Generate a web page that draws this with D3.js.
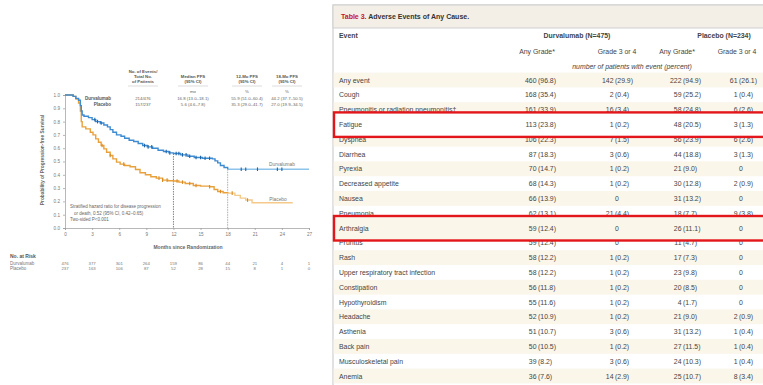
<!DOCTYPE html>
<html><head><meta charset="utf-8">
<script src="https://cdn.jsdelivr.net/npm/d3@7"></script>
<style>
html,body{margin:0;padding:0;background:#fff;}
svg{display:block;font-family:"Liberation Sans",Arial,sans-serif;}
</style></head>
<body>
<svg id="c" width="763" height="385"></svg>
<script>
// ---------- Kaplan-Meier data ----------
const kmMonths = [0,3,6,9,12,15,18,21,24,27];
const kmYTicks = [0,0.1,0.2,0.3,0.4,0.5,0.6,0.7,0.8,0.9,1.0];
const durvaSteps = [[0,1],[0.9,0.99],[1.2,0.975],[1.5,0.96],[1.7,0.92],[1.8,0.88],[1.9,0.85],[2.1,0.84],[2.6,0.83],[3.0,0.815],[3.4,0.80],[3.9,0.79],[4.3,0.775],[4.7,0.76],[5.0,0.74],[5.3,0.72],[5.7,0.70],[6.2,0.69],[6.6,0.675],[7.1,0.66],[7.6,0.65],[8.1,0.635],[8.6,0.62],[9.1,0.61],[9.7,0.60],[10.3,0.585],[10.9,0.575],[11.5,0.565],[12.0,0.56],[12.8,0.55],[13.6,0.54],[14.3,0.53],[15.2,0.525],[16.3,0.52],[16.6,0.505],[16.9,0.49],[17.2,0.47],[17.6,0.455],[18.0,0.442],[27.0,0.442]];
const placeboSteps = [[0,1],[0.9,0.99],[1.2,0.97],[1.5,0.94],[1.7,0.88],[1.8,0.80],[1.9,0.76],[2.3,0.745],[2.8,0.72],[3.1,0.70],[3.4,0.67],[3.7,0.645],[4.0,0.62],[4.3,0.595],[4.6,0.57],[5.0,0.545],[5.3,0.52],[5.7,0.495],[6.1,0.48],[6.6,0.47],[7.2,0.46],[7.8,0.44],[8.3,0.415],[8.9,0.40],[9.5,0.385],[10.1,0.375],[10.8,0.36],[11.4,0.355],[12.0,0.353],[12.6,0.345],[13.3,0.335],[14.2,0.32],[15.0,0.315],[16.0,0.31],[16.5,0.29],[16.9,0.275],[17.5,0.265],[18.0,0.262],[18.8,0.245],[19.4,0.225],[20.0,0.21],[20.7,0.19],[25.2,0.19]];
const durvaCensor = [3.3,3.6,4.0,8.8,9.2,9.6,11.2,11.6,12.3,12.6,13.0,13.4,13.8,14.5,15.0,15.5,16.0,19.5,20.0,21.3,23.5,24.0];
const placeboCensor = [4.1,5.0,6.5,10.4,10.8,11.3,12.4,13.0,13.8,14.5,16.0,17.2,18.5,20.2];
const riskDurva = [476,377,301,264,159,86,44,21,4,1];
const riskPlacebo = [237,163,106,87,52,28,15,8,1,0];
const kmHeaderCols = [["No. of Events/","Total No.","of Patients"],["Median PFS","(95% CI)"],["12-Mo PFS","(95% CI)"],["18-Mo PFS","(95% CI)"]];
const kmHeaderUnits = ["","mo","%","%"];
const kmRowDurva = ["214/476","16.8 (13.0–18.1)","55.9 (51.0–60.4)","44.2 (37.7–50.5)"];
const kmRowPlacebo = ["157/237","5.6 (4.6–7.8)","35.3 (29.0–41.7)","27.0 (19.9–34.5)"];
const hrLines = ["Stratified hazard ratio for disease progression","or death, 0.52 (95% CI, 0.42–0.65)","Two-sided P<0.001"];

// ---------- Table data ----------
const events = ["Any event","Cough","Pneumonitis or radiation pneumonitis†","Fatigue","Dyspnea","Diarrhea","Pyrexia","Decreased appetite","Nausea","Pneumonia","Arthralgia","Pruritus","Rash","Upper respiratory tract infection","Constipation","Hypothyroidism","Headache","Asthenia","Back pain","Musculoskeletal pain","Anemia"];
const durvaAnyN = [460,168,161,113,106,87,70,68,66,62,59,59,58,58,56,55,52,51,50,39,36];
const durvaAnyP = [96.8,35.4,33.9,23.8,22.3,18.3,14.7,14.3,13.9,13.1,12.4,12.4,12.2,12.2,11.8,11.6,10.9,10.7,10.5,8.2,7.6];
const durvaG34N = [142,2,16,1,7,3,1,1,0,21,0,0,1,1,1,1,1,3,1,3,14];
const durvaG34P = [29.9,0.4,3.4,0.2,1.5,0.6,0.2,0.2,0,4.4,0,0,0.2,0.2,0.2,0.2,0.2,0.6,0.2,0.6,2.9];
const placAnyN = [222,59,58,48,56,44,21,30,31,18,26,11,17,23,20,4,21,31,27,24,25];
const placAnyP = [94.9,25.2,24.8,20.5,23.9,18.8,9.0,12.8,13.2,7.7,11.1,4.7,7.3,9.8,8.5,1.7,9.0,13.2,11.5,10.3,10.7];
const placG34N = [61,1,6,3,6,3,0,2,0,9,0,0,0,0,0,0,2,1,1,1,8];
const placG34P = [26.1,0.4,2.6,1.3,2.6,1.3,0,0.9,0,3.8,0,0,0,0,0,0,0.9,0.4,0.4,0.4,3.4];
const highlighted = ["Fatigue","Arthralgia"];

const svg = d3.select("#c");
const ink = "#444";

// ================= KM PLOT =================
const x = d3.scaleLinear().domain([0,27]).range([65,309]);
const y = d3.scaleLinear().domain([0,1]).range([228,95]);
const km = svg.append("g");

const xAxis = km.append("g").attr("transform","translate(0,228)")
  .call(d3.axisBottom(x).tickValues(kmMonths).tickSize(2).tickPadding(3).tickFormat(d3.format("d")));
const yAxis = km.append("g").attr("transform","translate(65,0)")
  .call(d3.axisLeft(y).tickValues(kmYTicks).tickSize(2).tickPadding(3).tickFormat(d3.format(".1f")));
[xAxis,yAxis].forEach(a=>{
  a.selectAll("path,line").attr("stroke","#999").attr("stroke-width",0.7);
  a.selectAll("text").attr("fill","#777").style("font-size","4.6px").style("font-family","Liberation Sans, Arial, sans-serif");
});
km.append("text").attr("x",188).attr("y",249).attr("text-anchor","middle")
  .attr("fill","#666").style("font-size","5px").style("font-weight","bold").text("Months since Randomization");
km.append("text").attr("transform","translate(44,160) rotate(-90)").attr("text-anchor","middle")
  .attr("fill","#666").style("font-size","4.8px").style("font-weight","bold").text("Probability of Progression-free Survival");

function stepVal(steps,t){let v=steps[0][1];for(const s of steps){if(s[0]<=t)v=s[1];}return v;}
[[12,"#666"],[18,"#999"]].forEach(([m,c])=>{
  km.append("line").attr("x1",x(m)).attr("x2",x(m)).attr("y1",y(stepVal(durvaSteps,m))).attr("y2",y(0))
    .attr("stroke",c).attr("stroke-width",0.8).attr("stroke-dasharray","1.5,1");
});

const line = d3.line().x(d=>x(d[0])).y(d=>y(d[1])).curve(d3.curveStepAfter);
function drawCurve(steps, split, colMain, colTail, censor, colCensor){
  const main = steps.filter(d=>d[0]<=split);
  const tail = steps.filter(d=>d[0]>=split);
  km.append("path").attr("d",line(tail)).attr("fill","none").attr("stroke",colTail).attr("stroke-width",1.4);
  km.append("path").attr("d",line(main)).attr("fill","none").attr("stroke",colMain).attr("stroke-width",1.4);
  km.selectAll(null).data(censor).enter().append("line")
    .attr("x1",d=>x(d)).attr("x2",d=>x(d))
    .attr("y1",d=>y(stepVal(steps,d))-1.8).attr("y2",d=>y(stepVal(steps,d))+1.8)
    .attr("stroke",colCensor).attr("stroke-width",1.1);
}
drawCurve(placeboSteps,18,"#e9a13c","#f4c98a",placeboCensor,"#d98a22");
drawCurve(durvaSteps,18,"#3d8bd2","#8ec3ea",durvaCensor,"#1d64a8");

km.append("text").attr("x",282).attr("y",166).attr("text-anchor","middle").attr("fill","#777").style("font-size","4.8px").text("Durvalumab");
km.append("text").attr("x",278).attr("y",201).attr("text-anchor","middle").attr("fill","#777").style("font-size","4.8px").text("Placebo");

const hcX = [143,193,247,287];
kmHeaderCols.forEach((lines,i)=>{
  const base = i===0 ? 73 : 78;
  lines.forEach((t,j)=>{
    km.append("text").attr("x",hcX[i]).attr("y",base+j*5).attr("text-anchor","middle")
      .attr("fill","#555").style("font-size","4.3px").style("font-weight","bold").text(t);
  });
  km.append("line").attr("x1",hcX[i]-15).attr("x2",hcX[i]+15).attr("y1",86).attr("y2",86).attr("stroke","#bbb").attr("stroke-width",0.5);
  if(kmHeaderUnits[i]) km.append("text").attr("x",hcX[i]).attr("y",93).attr("text-anchor","middle")
      .attr("fill","#666").style("font-size","4.3px").text(kmHeaderUnits[i]);
});
[["Durvalumab",kmRowDurva,100],["Placebo",kmRowPlacebo,106]].forEach(([lab,vals,yy])=>{
  km.append("text").attr("x",111).attr("y",yy).attr("text-anchor","end").attr("fill","#555")
    .style("font-size","4.5px").style("font-weight","bold").text(lab);
  vals.forEach((v,i)=>km.append("text").attr("x",hcX[i]).attr("y",yy).attr("text-anchor","middle")
    .attr("fill","#666").style("font-size","4.3px").text(v));
});
hrLines.forEach((t,i)=>{
  km.append("text").attr("x",i===1?74:70).attr("y",208+i*6.5).attr("fill","#666").style("font-size","4.5px").text(t);
});

km.append("text").attr("x",10).attr("y",258).attr("fill","#555").style("font-size","5px").style("font-weight","bold").text("No. at Risk");
[["Durvalumab",riskDurva,264.5],["Placebo",riskPlacebo,270]].forEach(([lab,vals,yy])=>{
  km.append("text").attr("x",10).attr("y",yy).attr("fill","#777").style("font-size","4.5px").text(lab);
  vals.forEach((v,i)=>km.append("text").attr("x",x(kmMonths[i])).attr("y",yy).attr("text-anchor","middle")
    .attr("fill","#777").style("font-size","4.3px").text(v));
});

// ================= TABLE =================
const tb = svg.append("g");
const tx0 = 333, rowH = 14.8, row0 = 80;
tb.append("rect").attr("x",tx0).attr("y",5).attr("width",440).attr("height",400).attr("fill","#fff").attr("stroke","#cfcfcf").attr("stroke-width",1.2);
tb.append("rect").attr("x",tx0).attr("y",5).attr("width",440).attr("height",23).attr("fill","#f3efe7").attr("stroke","#cfcfcf").attr("stroke-width",1);
const title = tb.append("text").attr("x",341).attr("y",19).style("font-size","7px").style("font-weight","bold");
title.append("tspan").attr("fill","#c8102e").text("Table 3. ");
title.append("tspan").attr("fill","#333").text("Adverse Events of Any Cause.");

const fs = "6.9px";
const evX = 339;
tb.append("text").attr("x",evX).attr("y",38).attr("fill",ink).style("font-size",fs).style("font-weight","bold").text("Event");
tb.append("text").attr("x",577).attr("y",38).attr("text-anchor","middle").attr("fill",ink).style("font-size",fs).style("font-weight","bold").text("Durvalumab (N=475)");
tb.append("text").attr("x",724).attr("y",38).attr("text-anchor","middle").attr("fill",ink).style("font-size",fs).style("font-weight","bold").text("Placebo (N=234)");
const subH = [["Any Grade*",537],["Grade 3 or 4",617],["Any Grade*",677],["Grade 3 or 4",737]];
subH.forEach(([t,cx])=>tb.append("text").attr("x",cx).attr("y",54).attr("text-anchor","middle").attr("fill",ink).style("font-size",fs).text(t));
tb.append("text").attr("x",632).attr("y",68.5).attr("text-anchor","middle").attr("fill",ink).style("font-size",fs).style("font-style","italic").text("number of patients with event (percent)");

const cols = [[durvaAnyN,durvaAnyP,538],[durvaG34N,durvaG34P,615],[placAnyN,placAnyP,683],[placG34N,placG34P,739]];
function drawRow(i, g){
  const cy = row0 + i*rowH;
  g.append("text").attr("x",evX).attr("y",cy+2.5).attr("fill",ink).style("font-size",fs).text(events[i]);
  cols.forEach(([N,P,ax])=>{
    if(N[i]===0){
      g.append("text").attr("x",ax+2).attr("y",cy+2.5).attr("text-anchor","middle").attr("fill",ink).style("font-size",fs).text("0");
    } else {
      g.append("text").attr("x",ax-1.5).attr("y",cy+2.5).attr("text-anchor","end").attr("fill",ink).style("font-size",fs).text(N[i]);
      g.append("text").attr("x",ax).attr("y",cy+2.5).attr("fill",ink).style("font-size",fs).text("("+d3.format(".1f")(P[i])+")");
    }
  });
}
events.forEach((e,i)=>{
  if(i%2===0) tb.append("rect").attr("x",tx0+0.6).attr("y",row0+i*rowH-rowH/2).attr("width",440).attr("height",rowH).attr("fill","#fbf6ea");
});
events.forEach((e,i)=>{ if(!highlighted.includes(e)) drawRow(i,tb); });

highlighted.forEach(name=>{
  const i = events.indexOf(name);
  const cy = row0 + i*rowH;
  const g = tb.append("g");
  g.append("rect").attr("x",tx0+1).attr("y",cy-12).attr("width",440).attr("height",24.5)
    .attr("fill",i%2===0?"#fbf6ea":"#ffffff").attr("stroke","#e3161b").attr("stroke-width",2.4);
  drawRow(i,g);
});
</script>
</body></html>
